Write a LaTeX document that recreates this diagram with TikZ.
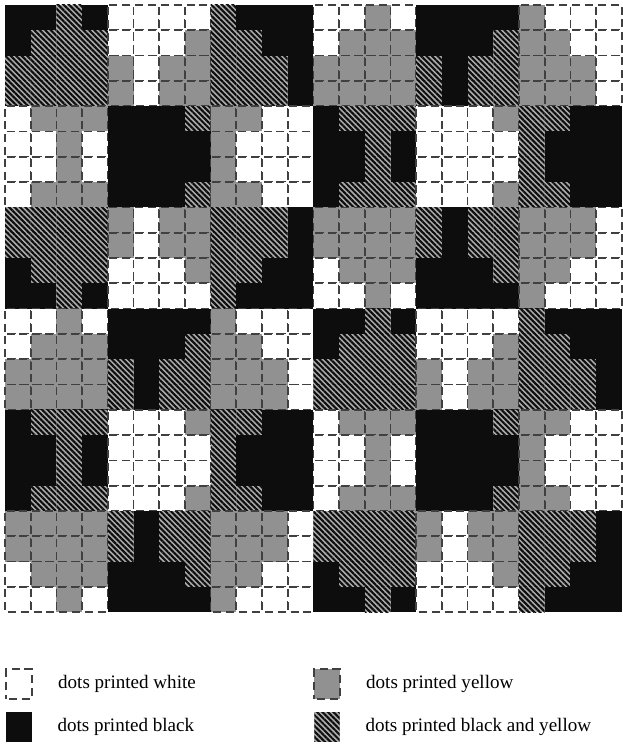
\documentclass[tikz,border=0pt]{standalone}
\usepackage{fontspec}
\setmainfont{Liberation Serif}
\usepackage{xcolor}
\usetikzlibrary{patterns.meta,positioning}
\colorlet{inkyellow}{black!43}
\colorlet{inkblack}{black!95}
\colorlet{hatchbg}{black!33}
\colorlet{dotedge}{black!75}
\tikzset{
    dotline/.style={
        draw=dotedge, line width=1.3pt,
        dash pattern=on 6pt off 3.64pt, dash phase=7.82pt
    },
    dotW/.style={fill=white, dotline},
    dotY/.style={fill=inkyellow, dotline},
    dotK/.style={fill=inkblack},
    dotH/.style={
        fill=hatchbg,
        postaction={pattern={Lines[angle=-45, distance=2.9pt, line width=1.55pt]},
            pattern color=inkblack}
    },
    legicon/.style={
        rectangle, inner sep=0pt, minimum width=19pt, minimum height=22pt
    },
    legtext/.style={
        inner sep=0pt, anchor=west, font=\fontsize{14.3}{17}\selectfont
    }
}

\begin{document}
\begin{tikzpicture}[x=0.75pt, y=-0.75pt]
    \useasboundingbox (0,0) rectangle (622,745);
    % one list of cells per dot row: W white, Y yellow, K black, H black+yellow
    \foreach \cells [count=\r from 0] in {
        {K,K,H,K,W,W,W,W,H,K,K,K,W,W,Y,W,K,K,K,K,Y,W,W,W},
        {K,H,H,H,W,W,W,Y,H,H,K,K,W,Y,Y,Y,K,K,K,H,Y,Y,W,W},
        {H,H,H,H,Y,W,Y,Y,H,H,H,K,Y,Y,Y,Y,H,K,H,H,Y,Y,Y,W},
        {H,H,H,H,Y,W,Y,Y,H,H,H,K,Y,Y,Y,Y,H,K,H,H,Y,Y,Y,W},
        {W,Y,Y,Y,K,K,K,H,Y,Y,W,W,K,H,H,H,W,W,W,Y,H,H,K,K},
        {W,W,Y,W,K,K,K,K,Y,W,W,W,K,K,H,K,W,W,W,W,H,K,K,K},
        {W,W,Y,W,K,K,K,K,Y,W,W,W,K,K,H,K,W,W,W,W,H,K,K,K},
        {W,Y,Y,Y,K,K,K,H,Y,Y,W,W,K,H,H,H,W,W,W,Y,H,H,K,K},
        {H,H,H,H,Y,W,Y,Y,H,H,H,K,Y,Y,Y,Y,H,K,H,H,Y,Y,Y,W},
        {H,H,H,H,Y,W,Y,Y,H,H,H,K,Y,Y,Y,Y,H,K,H,H,Y,Y,Y,W},
        {K,H,H,H,W,W,W,Y,H,H,K,K,W,Y,Y,Y,K,K,K,H,Y,Y,W,W},
        {K,K,H,K,W,W,W,W,H,K,K,K,W,W,Y,W,K,K,K,K,Y,W,W,W},
        {W,W,Y,W,K,K,K,K,Y,W,W,W,K,K,H,K,W,W,W,W,H,K,K,K},
        {W,Y,Y,Y,K,K,K,H,Y,Y,W,W,K,H,H,H,W,W,W,Y,H,H,K,K},
        {Y,Y,Y,Y,H,K,H,H,Y,Y,Y,W,H,H,H,H,Y,W,Y,Y,H,H,H,K},
        {Y,Y,Y,Y,H,K,H,H,Y,Y,Y,W,H,H,H,H,Y,W,Y,Y,H,H,H,K},
        {K,H,H,H,W,W,W,Y,H,H,K,K,W,Y,Y,Y,K,K,K,H,Y,Y,W,W},
        {K,K,H,K,W,W,W,W,H,K,K,K,W,W,Y,W,K,K,K,K,Y,W,W,W},
        {K,K,H,K,W,W,W,W,H,K,K,K,W,W,Y,W,K,K,K,K,Y,W,W,W},
        {K,H,H,H,W,W,W,Y,H,H,K,K,W,Y,Y,Y,K,K,K,H,Y,Y,W,W},
        {Y,Y,Y,Y,H,K,H,H,Y,Y,Y,W,H,H,H,H,Y,W,Y,Y,H,H,H,K},
        {Y,Y,Y,Y,H,K,H,H,Y,Y,Y,W,H,H,H,H,Y,W,Y,Y,H,H,H,K},
        {W,Y,Y,Y,K,K,K,H,Y,Y,W,W,K,H,H,H,W,W,W,Y,H,H,K,K},
        {W,W,Y,W,K,K,K,K,Y,W,W,W,K,K,H,K,W,W,W,W,H,K,K,K}%
    } {
        \foreach \t [count=\c from 0] in \cells
            \path[dot\t] (5+25.7*\c, 5+25.3*\r) rectangle +(25.7,25.3);
    }
    % legend
    \node[legicon, dotW] (keywhite) at (19,684) {};
    \node[legtext, right=19pt of keywhite] (txtwhite) {dots printed white};
    \node[legicon, dotY] (keyyellow) at (327,684) {};
    \node[legtext, right=19pt of keyyellow] (txtyellow) {dots printed yellow};
    \node[legicon, dotK] (keyblack) at (19,727) {};
    \node[legtext, right=19pt of keyblack] (txtblack) {dots printed black};
    \node[legicon, dotH] (keyboth) at (327,727) {};
    \node[legtext, right=19pt of keyboth] (txtboth) {dots printed black and yellow};
\end{tikzpicture}
\end{document}
